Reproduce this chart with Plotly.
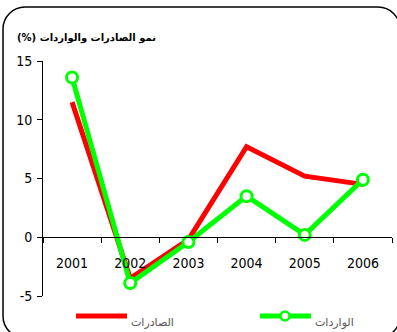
import plotly.graph_objects as go

# Annual growth of exports and imports (%)
years = ["2001", "2002", "2003", "2004", "2005", "2006"]
exports = [11.5, -3.5, -0.2, 7.7, 5.2, 4.5]
imports = [13.6, -3.9, -0.4, 3.5, 0.2, 4.9]
y_ticks = [-5, 0, 5, 10, 15]
y_tick_text = ["-5", "0", "5", "10", "15"]

title_text = "نمو الصادرات والواردات (%)"
exports_name = "الصادرات"
imports_name = "الواردات"

RED = "#ff0000"
GREEN = "#00ff00"

W, H = 397, 332
ML, MR, MT, MB = 43, 5, 61, 36
PW, PH = W - ML - MR, H - MT - MB


def px(x):
    """Pixel x -> paper x."""
    return (x - ML) / PW


def py(y):
    """Pixel y (from top) -> paper y."""
    return (H - MB - y) / PH


fig = go.Figure()

fig.add_trace(go.Scatter(
    x=years, y=exports, mode="lines", name=exports_name,
    line=dict(color=RED, width=5), hoverinfo="skip", showlegend=False,
))
fig.add_trace(go.Scatter(
    x=years, y=imports, mode="lines+markers", name=imports_name,
    line=dict(color=GREEN, width=5),
    marker=dict(symbol="circle", size=11, color="white",
                line=dict(color=GREEN, width=3)),
    hoverinfo="skip", showlegend=False,
))

# Rounded frame around the chart
L, R, T, B, r = 3, 400, 7, 338, 22
k = 0.5523 * r
frame = (
    f"M {px(L)},{py(T + r)} "
    f"C {px(L)},{py(T + r - k)} {px(L + r - k)},{py(T)} {px(L + r)},{py(T)} "
    f"L {px(R - r)},{py(T)} "
    f"C {px(R - r + k)},{py(T)} {px(R)},{py(T + r - k)} {px(R)},{py(T + r)} "
    f"L {px(R)},{py(B - r)} "
    f"C {px(R)},{py(B - r + k)} {px(R - r + k)},{py(B)} {px(R - r)},{py(B)} "
    f"L {px(L + r)},{py(B)} "
    f"C {px(L + r - k)},{py(B)} {px(L)},{py(B - r + k)} {px(L)},{py(B - r)} Z"
)

shapes = [
    dict(type="path", xref="paper", yref="paper", path=frame,
         line=dict(color="black", width=1.5), fillcolor="rgba(0,0,0,0)",
         layer="below"),
    # legend keys
    dict(type="line", xref="paper", yref="paper",
         x0=px(76), x1=px(127), y0=py(316), y1=py(316),
         line=dict(color=RED, width=5)),
    dict(type="line", xref="paper", yref="paper",
         x0=px(260), x1=px(311), y0=py(316), y1=py(316),
         line=dict(color=GREEN, width=5)),
    dict(type="circle", xref="paper", yref="paper",
         x0=px(280.5), x1=px(289.5), y0=py(320.5), y1=py(311.5),
         fillcolor="white", line=dict(color=GREEN, width=2.5)),
]

annotations = [
    dict(xref="paper", yref="paper", x=px(15), y=py(38),
         xanchor="left", yanchor="middle", showarrow=False,
         text="\u202b" + title_text + "\u202c",
         font=dict(family="DejaVu Sans", size=10, color="black", weight="bold")),
    dict(xref="paper", yref="paper", x=px(129), y=py(322),
         xanchor="left", yanchor="middle", showarrow=False,
         text=exports_name,
         font=dict(family="DejaVu Sans", size=11, color="#555555")),
    dict(xref="paper", yref="paper", x=px(313), y=py(322),
         xanchor="left", yanchor="middle", showarrow=False,
         text=imports_name,
         font=dict(family="DejaVu Sans", size=11, color="#555555")),
]

tick_font = dict(family="Liberation Sans Narrow, DejaVu Sans Condensed, Arial Narrow, sans-serif",
                 size=14, color="black")

fig.update_layout(
    width=W, height=H,
    margin=dict(l=ML, r=MR, t=MT, b=MB, pad=0),
    paper_bgcolor="white", plot_bgcolor="white",
    showlegend=False,
    shapes=shapes, annotations=annotations,
    xaxis=dict(
        type="category", range=[-0.5, 5.5],
        anchor="free", position=0.25,
        showline=True, linecolor="black", linewidth=1,
        ticks="outside", ticklen=5, tickcolor="black", tickson="boundaries",
        showgrid=False, zeroline=False,
        tickfont=tick_font, ticklabelstandoff=13,
    ),
    yaxis=dict(
        range=[-5, 15], tickvals=y_ticks, ticktext=y_tick_text,
        showline=True, linecolor="black", linewidth=1,
        ticks="outside", ticklen=5, tickcolor="black",
        showgrid=False, zeroline=False,
        tickfont=tick_font, ticklabelstandoff=2,
    ),
)

fig.write_html("out.html", config={"displayModeBar": False, "staticPlot": True})
